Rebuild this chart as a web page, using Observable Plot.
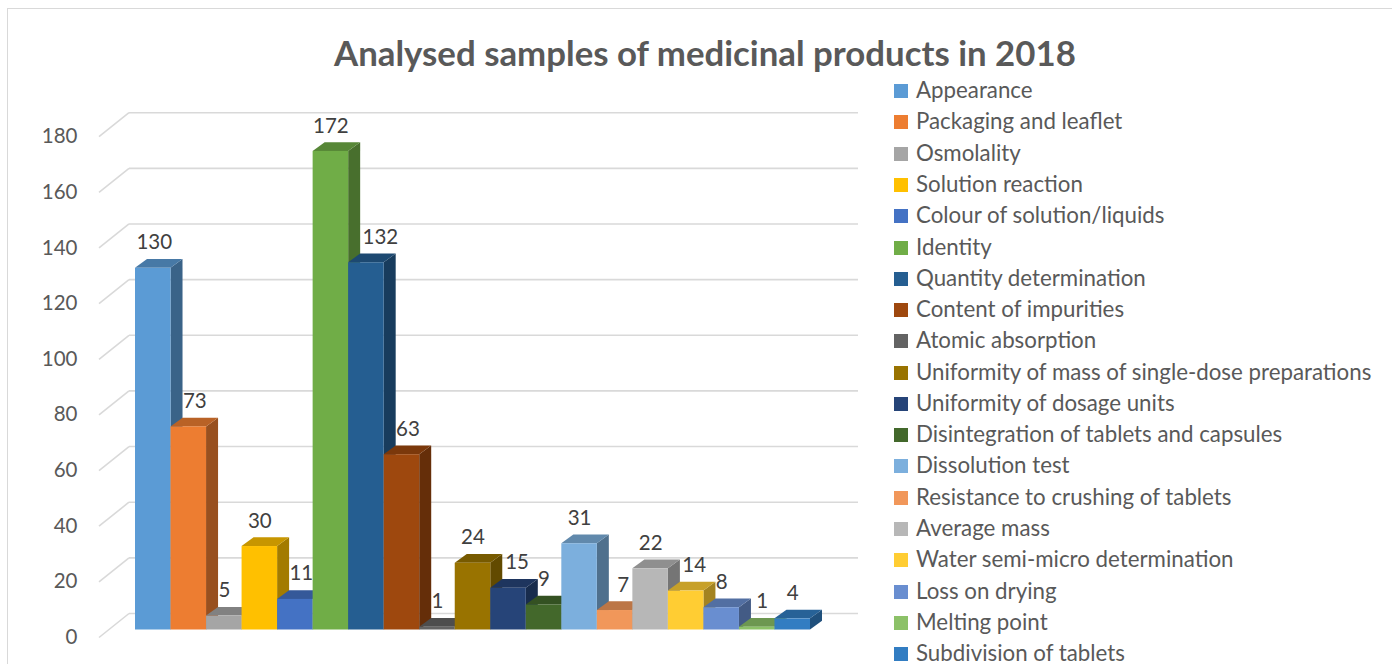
<!DOCTYPE html>
<html>
<head>
<meta charset="utf-8">
<script src="https://cdn.jsdelivr.net/npm/d3@7"></script>
<script src="https://cdn.jsdelivr.net/npm/@observablehq/plot@0.6"></script>
<style>
  html, body { margin: 0; padding: 0; width: 1392px; height: 664px; overflow: hidden; background: #fff; }
  body { position: relative; font-family: Lato, sans-serif; }
  #frame { position: absolute; left: 7px; top: 8px; width: 1500px; height: 800px; border: 1.5px solid #d9d9d9; box-sizing: border-box; }
  #chart { position: absolute; left: 0; top: 0; }
  #title { position: absolute; left: 334px; top: 33px; margin: 0; font: 700 34.8px/40px Lato, sans-serif; color: #595959; white-space: nowrap; }
  .row { position: absolute; left: 894px; height: 24px; display: flex; align-items: center; font-size: 22.3px; color: #595959; white-space: nowrap; }
  .row i { display: block; width: 13.5px; height: 14px; margin-right: 8.5px; position: relative; top: 1.5px; }
</style>
</head>
<body>
<div id="frame"></div>
<div id="chart"></div>
<h1 id="title">Analysed samples of medicinal products in 2018</h1>
<div id="legend"></div>
<script>
const categories = ["Appearance","Packaging and leaflet","Osmolality","Solution reaction","Colour of solution/liquids","Identity","Quantity determination","Content of impurities","Atomic absorption","Uniformity of mass of single-dose preparations","Uniformity of dosage units","Disintegration of tablets and capsules","Dissolution test","Resistance to crushing of tablets","Average mass","Water semi-micro determination","Loss on drying","Melting point","Subdivision of tablets"];
const samples = [130,73,5,30,11,172,132,63,1,24,15,9,31,7,22,14,8,1,4];
const colors = ["#5B9BD5","#ED7D31","#A5A5A5","#FFC000","#4472C4","#70AD47","#255E91","#9E480E","#636363","#997300","#264478","#43682B","#7CAFDD","#F1975A","#B7B7B7","#FFCD33","#698ED0","#8CC168","#327DC2"];
const yTicks = [0,20,40,60,80,100,120,140,160,180];

const rows = categories.map((category, i) => ({category, value: samples[i]}));

// Layout only: the sideways nudge of each data label, the 3D depth offset and face shading.
const labelNudge = [1,6,0,0,6,0,14,6,0,0,8.5,0,0,8,0,8,0,5,0];
const depthX = 12, depthY = -8.7;
const shade = (c, k) => { const r = d3.rgb(c); return d3.rgb(r.r * k, r.g * k, r.b * k).formatHex(); };

function extrude(index, scales, values, dims, context, next) {
  const g = next(index, scales, values, dims, context);
  g.querySelectorAll("rect").forEach(rect => {
    const x = +rect.getAttribute("x"), y = +rect.getAttribute("y");
    const w = +rect.getAttribute("width"), h = +rect.getAttribute("height");
    const fill = rect.getAttribute("fill");
    const face = (pts, k) => {
      const p = document.createElementNS("http://www.w3.org/2000/svg", "polygon");
      p.setAttribute("points", pts.map(q => q.join(",")).join(" "));
      p.setAttribute("fill", shade(fill, k));
      g.insertBefore(p, rect);
    };
    face([[x + w, y], [x + w + depthX, y + depthY], [x + w + depthX, y + h + depthY], [x + w, y + h]], 0.64);
    face([[x, y], [x + depthX, y + depthY], [x + w + depthX, y + depthY], [x + w, y]], 0.78);
  });
  return g;
}

function wallDiagonal(index, scales, values, dims, context, next) {
  const g = next(index, scales, values, dims, context);
  g.querySelectorAll("line").forEach(l => {
    const y = +l.getAttribute("y1");
    l.setAttribute("x1", 99); l.setAttribute("y1", y + 7.5);
    l.setAttribute("x2", 129); l.setAttribute("y2", y - 16.5);
  });
  return g;
}

const gridStyle = {stroke: "#d9d9d9", strokeWidth: 1.6, strokeOpacity: 1};

const labelMarks = [...new Set(labelNudge)].map(n =>
  Plot.text(rows.filter((d, i) => labelNudge[i] === n), {
    x: "category", y: "value", text: d => String(d.value),
    dx: n, dy: -25.5, fill: "#404040", fontSize: 20.5, fontFamily: "Lato, sans-serif"
  }));

const plot = Plot.plot({
  width: 1392, height: 664,
  marginLeft: 135, marginRight: 582, marginTop: 128.7, marginBottom: 34.5,
  style: {background: "transparent", fontFamily: "Lato, sans-serif"},
  x: {domain: categories, padding: 0, round: false, axis: null},
  y: {domain: [0, 180], ticks: yTicks},
  color: {domain: categories, range: colors},
  marks: [
    Plot.ruleY(yTicks, {...gridStyle, dy: -16.5, insetLeft: -6, insetRight: -48}),
    Plot.ruleY(yTicks, {...gridStyle, render: wallDiagonal}),
    Plot.axisY(yTicks, {
      tickSize: 0, tickPadding: 58, dy: 7.5, label: null,
      fontSize: 20.5, fill: "#595959", color: "#595959", fontFamily: "Lato, sans-serif"
    }),
    Plot.barY(rows, {x: "category", y: "value", fill: "category", inset: 0, render: extrude}),
    ...labelMarks
  ]
});
document.getElementById("chart").append(plot);

const legend = document.getElementById("legend");
categories.forEach((c, i) => {
  const row = document.createElement("div");
  row.className = "row";
  row.style.top = (77.6 + i * 31.28) + "px";
  const sw = document.createElement("i");
  sw.style.background = colors[i];
  const label = document.createElement("span");
  label.textContent = c;
  row.append(sw, label);
  legend.append(row);
});
</script>
</body>
</html>
